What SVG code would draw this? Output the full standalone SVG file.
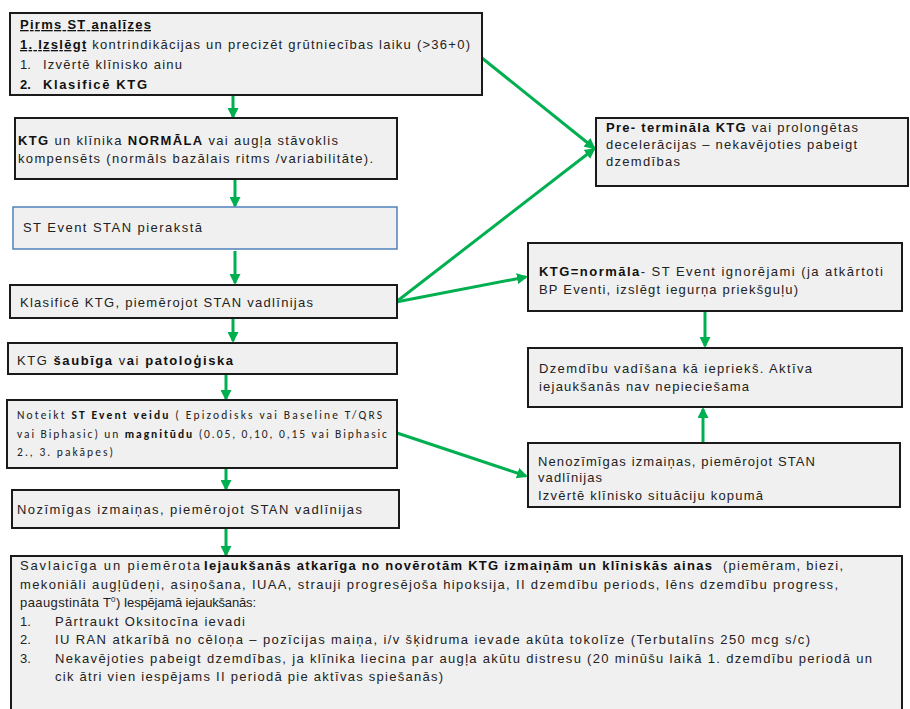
<svg xmlns="http://www.w3.org/2000/svg" width="910" height="709" viewBox="0 0 910 709">
<defs>
<marker id="ah" markerUnits="userSpaceOnUse" markerWidth="11" markerHeight="11" refX="9" refY="5.5" orient="auto" viewBox="0 0 11 11">
<path d="M0,0 L11,5.5 L0,11 z" fill="#00b050"/>
</marker>
<style>
.box{fill:#f0f0f0;stroke:#1a1a1a;stroke-width:2}
.bbox{fill:#f0f0f0;stroke:#4f81bd;stroke-width:1.5}
text{font-family:"Liberation Sans",Arial,sans-serif;font-size:13px;fill:#222}
.c{font-family:Carlito,"Open Sans","Liberation Sans",sans-serif;font-size:11.5px}
.b{font-weight:bold;fill:#111}
.u{text-decoration:underline}
.sup{font-size:8px}
.con{stroke:#00b050;stroke-width:3;fill:none;marker-end:url(#ah)}
</style>
</defs>
<rect width="910" height="709" fill="#ffffff"/>

<g id="connectors">
<line class="con" x1="233" y1="96" x2="233" y2="117"/>
<line class="con" x1="235" y1="180" x2="235" y2="206"/>
<line class="con" x1="235" y1="251" x2="235" y2="283"/>
<line class="con" x1="233" y1="319" x2="233" y2="341"/>
<line class="con" x1="226" y1="375" x2="226" y2="399"/>
<line class="con" x1="226" y1="469" x2="226" y2="489"/>
<line class="con" x1="226" y1="529" x2="226" y2="555"/>
<line class="con" x1="482" y1="58" x2="594" y2="148"/>
<line class="con" x1="396" y1="302" x2="594" y2="149"/>
<line class="con" x1="396" y1="302" x2="526" y2="277"/>
<line class="con" x1="705" y1="312" x2="705" y2="346"/>
<line class="con" x1="703" y1="443" x2="703" y2="409"/>
<line class="con" x1="397" y1="433" x2="526" y2="476"/>
</g>

<g id="n-pirms">
<rect class="box" x="10" y="13" width="472" height="82"/>
<text x="20" y="29" class="b u" textLength="131">Pirms  ST  analīzes</text>
<text x="20" y="49" textLength="450"><tspan class="b u">1. Izslēgt</tspan> kontrindikācijas  un  precizēt  grūtniecības  laiku (&gt;36+0)</text>
<text x="20" y="69">1.</text>
<text x="43" y="69" textLength="139">Izvērtē  klīnisko  ainu</text>
<text x="20" y="89" class="b">2.</text>
<text x="43" y="89" class="b" textLength="104">Klasificē  KTG</text>
</g>

<g id="n-ktg-normala">
<rect class="box" x="15" y="118" width="382" height="61"/>
<text x="18" y="145" textLength="320"><tspan class="b">KTG</tspan> un  klīnika  <tspan class="b">NORMĀLA</tspan>  vai  augļa  stāvoklis</text>
<text x="18" y="163" textLength="355">kompensēts  (normāls  bazālais  ritms  /variabilitāte).</text>
</g>

<g id="n-preterminal">
<rect class="box" x="596" y="118" width="312" height="68"/>
<text x="606" y="132" textLength="252"><tspan class="b">Pre-  termināla  KTG</tspan> vai prolongētas</text>
<text x="606" y="149" textLength="251">decelerācijas  – nekavējoties  pabeigt</text>
<text x="606" y="166" textLength="74">dzemdības</text>
</g>

<g id="n-st-event">
<rect class="bbox" x="13" y="207" width="384" height="42"/>
<text x="23" y="232" textLength="179">ST Event  STAN  pierakstā</text>
</g>

<g id="n-klasifice">
<rect class="box" x="10" y="285" width="387" height="33"/>
<text x="20" y="307" textLength="293">Klasificē  KTG,  piemērojot  STAN  vadlīnijas</text>
</g>

<g id="n-saubiga">
<rect class="box" x="8" y="343" width="389" height="31"/>
<text x="17" y="365" textLength="216">KTG  <tspan class="b">šaubīga</tspan>  v<tspan class="b">a</tspan>i  <tspan class="b">patoloģiska</tspan></text>
</g>

<g id="n-noteikt">
<rect class="box" x="7" y="400" width="390" height="68"/>
<text class="c" x="17" y="419" textLength="365">Noteikt <tspan class="b">ST Event veidu</tspan> ( Epizodisks vai Baseline T/QRS</text>
<text class="c" x="17" y="438" textLength="370">vai Biphasic) un <tspan class="b">magnitūdu</tspan> (0.05,  0,10, 0,15 vai Biphasic</text>
<text class="c" x="17" y="456" textLength="96">2., 3. pakāpes)</text>
</g>

<g id="n-nozimigas">
<rect class="box" x="12" y="490" width="387" height="38"/>
<text x="17" y="514" textLength="345">Nozīmīgas  izmaiņas,  piemērojot  STAN  vadlīnijas</text>
</g>

<g id="n-ktg-norm">
<rect class="box" x="528" y="243" width="374" height="68"/>
<text x="539" y="276" textLength="344"><tspan class="b">KTG=normāla</tspan>-  ST Event  ignorējami  (ja atkārtoti</text>
<text x="539" y="294" textLength="259">BP  Eventi,  izslēgt  iegurņa  priekšguļu)</text>
</g>

<g id="n-dzemdibu">
<rect class="box" x="528" y="348" width="374" height="59"/>
<text x="539" y="373" textLength="273">Dzemdību  vadīšana  kā  iepriekš. Aktīva</text>
<text x="539" y="391" textLength="210">iejaukšanās  nav  nepieciešama</text>
</g>

<g id="n-nenozimigas">
<rect class="box" x="528" y="443" width="372" height="64"/>
<text x="538" y="466" textLength="277">Nenozīmīgas  izmaiņas,  piemērojot  STAN</text>
<text x="538" y="482" textLength="64">vadlīnijas</text>
<text x="538" y="500" textLength="225">Izvērtē  klīnisko  situāciju  kopumā</text>
</g>

<g id="n-savlaiciga">
<rect class="box" x="11" y="556" width="891" height="160"/>
<text x="20" y="570" textLength="180">Savlaicīga  un  piemērota</text>
<text x="204" y="570" class="b" textLength="508">Iejaukšanās  atkarīga  no novērotām  KTG izmaiņām  un  klīniskās  ainas</text>
<text x="723" y="570" textLength="120">(piemēram,  biezi,</text>
<text x="20" y="589" textLength="818">mekoniāli  augļūdeņi,  asiņošana,  IUAA,  strauji  progresējoša  hipoksija,  II  dzemdību  periods,  lēns  dzemdību  progress,</text>
<text x="20" y="607" textLength="91">paaugstināta  T</text>
<text x="111" y="602" class="sup">0</text>
<text x="116" y="607" textLength="140">)  Iespējamā  iejaukšanās:</text>
<text x="20" y="626">1.</text>
<text x="55" y="626" textLength="190">Pārtraukt  Oksitocīna  ievadi</text>
<text x="20" y="644">2.</text>
<text x="55" y="644" textLength="755">IU RAN  atkarībā  no  cēloņa – pozīcijas  maiņa,  i/v  šķidruma  ievade  akūta  tokolīze  (Terbutalīns  250  mcg  s/c)</text>
<text x="20" y="663">3.</text>
<text x="55" y="663" textLength="817">Nekavējoties  pabeigt  dzemdības,  ja  klīnika  liecina  par  augļa  akūtu  distresu  (20  minūšu  laikā  1.  dzemdību  periodā  un</text>
<text x="55" y="681" textLength="388">cik  ātri  vien  iespējams  II  periodā  pie  aktīvas  spiešanās)</text>
</g>
</svg>
